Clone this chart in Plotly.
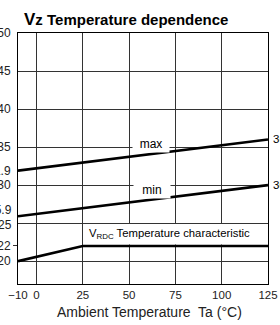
import plotly.graph_objects as go

# ---- data ----
max_x = [-10, 125]
max_y = [31.9, 36.0]
min_x = [-10, 125]
min_y = [25.9, 30.0]
vrdc_x = [-10, 25, 125]
vrdc_y = [20.0, 22.0, 22.0]

x_tick_vals = [-10, 0, 25, 50, 75, 100, 125]
x_tick_text = ["\u221210", "0", "25", "50", "75", "100", "125"]
y_grid_vals = [50, 45, 40, 35, 30, 25, 20]
y_label_vals = [50, 45, 40, 35, 31.9, 30, 22, 20]
y_label_text = ["50", "45", "40", "35", "31.9", "30", "22", "20"]

FONT = "Liberation Sans, Arial, sans-serif"
LINE = dict(color="black", width=2.6)

fig = go.Figure()
fig.add_trace(go.Scatter(x=max_x, y=max_y, mode="lines", line=LINE, yaxis="y", showlegend=False))
fig.add_trace(go.Scatter(x=min_x, y=min_y, mode="lines", line=LINE, yaxis="y", showlegend=False))
fig.add_trace(go.Scatter(x=vrdc_x, y=vrdc_y, mode="lines", line=LINE, yaxis="y", showlegend=False))

yr = [17, 50]
fig.update_layout(
    width=280, height=325,
    margin=dict(l=18, r=12, t=33, b=41, autoexpand=False),
    paper_bgcolor="white", plot_bgcolor="white",
    font=dict(family=FONT, size=11, color="black"),
    xaxis=dict(range=[-10, 125], tickvals=x_tick_vals, ticktext=x_tick_text,
               showgrid=True, gridcolor="#333", gridwidth=1, automargin=False,
               showline=True, linecolor="black", linewidth=1, mirror=True,
               ticks="", zeroline=False, tickfont=dict(size=11.5, color="#222")),
    yaxis=dict(range=yr, tickvals=y_label_vals, ticktext=y_label_text,
               showgrid=False, showline=True, linecolor="black", linewidth=1, mirror=True,
               ticks="", zeroline=False, ticklabelstandoff=4, automargin=False,
               tickfont=dict(size=12, color="#222")),
    yaxis2=dict(range=yr, overlaying="y", tickvals=y_grid_vals, showticklabels=False,
                showgrid=True, gridcolor="#333", gridwidth=1, zeroline=False, ticks="",
                automargin=False),
    yaxis3=dict(range=yr, overlaying="y", tickvals=[22], showticklabels=False,
                showgrid=False, zeroline=False, ticks="outside", ticklen=4,
                tickcolor="#333", side="left", automargin=False),
)
# dummy traces to activate overlay axes
fig.add_trace(go.Scatter(x=[None], y=[None], yaxis="y2", showlegend=False, hoverinfo="skip"))
fig.add_trace(go.Scatter(x=[None], y=[None], yaxis="y3", showlegend=False, hoverinfo="skip"))

# white box behind VRDC label
fig.add_shape(type="rect", xref="x", yref="y", x0=25.6, x1=124.7, y0=22.2, y1=24.9,
              fillcolor="white", line=dict(width=0), layer="between")

annos = [
    dict(x=62, y=35.35, text="max", width=34, bgcolor="white", font=dict(size=12)),
    dict(x=62.5, y=29.4, text="min", width=34, bgcolor="white", font=dict(size=12)),
    dict(x=27.5, y=23.55, text="V<sub>RDC</sub> Temperature characteristic",
         xanchor="left", font=dict(size=11.3)),
    dict(x=125, y=36, text="36", xanchor="left", xshift=3, font=dict(size=11.5)),
    dict(x=125, y=30, text="30", xanchor="left", xshift=3, font=dict(size=11.5)),
    dict(xref="paper", x=0, y=25.9, text="25.9", xanchor="right", xshift=-4, yshift=6,
         font=dict(size=12, color="#222")),
    dict(xref="paper", x=0, y=25, text="25", xanchor="right", xshift=-4, yshift=-2,
         font=dict(size=12, color="#222")),
]
for a in annos:
    a.setdefault("xref", "x")
    a.setdefault("yref", "y")
    fig.add_annotation(showarrow=False, **a)

fig.add_annotation(xref="paper", yref="paper", x=0.5, y=0, xshift=6, yshift=-28,
                   yanchor="middle", text="Ambient Temperature  Ta (\u00b0C)",
                   showarrow=False, font=dict(size=14, color="#222"))
fig.add_annotation(xref="paper", yref="paper", x=0.016, y=1, yshift=2, yanchor="bottom",
                   xanchor="left", showarrow=False,
                   text="<b><span style='font-size:17px'>V</span>z Temperature dependence</b>",
                   font=dict(size=15, color="black"))

fig.write_html("out.html", config={"displayModeBar": False},
               post_script="document.body.style.margin='0';document.body.style.overflow='hidden';")
